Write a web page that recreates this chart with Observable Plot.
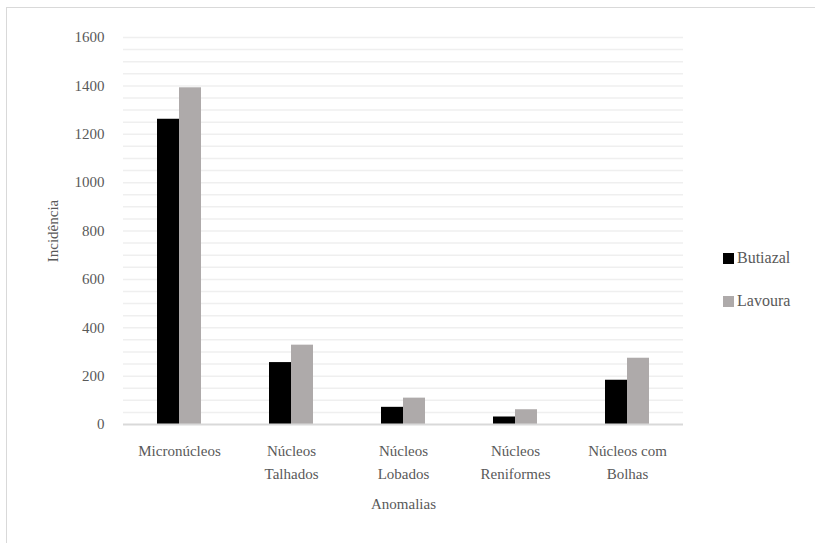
<!DOCTYPE html>
<html>
<head>
<meta charset="utf-8">
<script src="https://cdn.jsdelivr.net/npm/d3@7"></script>
<script src="https://cdn.jsdelivr.net/npm/@observablehq/plot@0.6"></script>
<style>
  html, body { margin: 0; padding: 0; background: #fff; }
  #wrap { position: relative; width: 815px; height: 543px; overflow: hidden; font-family: "Liberation Serif", serif; color: #595959; }
  #frame { position: absolute; left: 6px; top: 7px; right: -10px; bottom: -10px; border-top: 1.5px solid #d9d9d9; border-left: 1.5px solid #d9d9d9; }
  #chart { position: absolute; left: 0; top: 0; }
  .leg { position: absolute; left: 723px; font-size: 16px; display: flex; align-items: center; }
  .sw { width: 11px; height: 11px; margin-right: 3px; }
</style>
</head>
<body>
<div id="wrap">
  <div id="frame"></div>
  <div id="chart"></div>
  <div class="leg" style="top:249px"><div class="sw" style="background:#000"></div>Butiazal</div>
  <div class="leg" style="top:292px"><div class="sw" style="background:#aeaaaa"></div>Lavoura</div>
</div>
<script>
const categories = ["Micronúcleos", "Núcleos Talhados", "Núcleos Lobados", "Núcleos Reniformes", "Núcleos com Bolhas"];
const tickLabels = ["Micronúcleos", "Núcleos\nTalhados", "Núcleos\nLobados", "Núcleos\nReniformes", "Núcleos com\nBolhas"];
const series = ["Butiazal", "Lavoura"];
const butiazal = [1262, 256, 71, 31, 183];
const lavoura = [1392, 328, 109, 61, 274];
const yTicks = [0, 200, 400, 600, 800, 1000, 1200, 1400, 1600];
const gridTicks = d3.range(50, 1601, 50);

const data = categories.flatMap((c, i) => [
  {cat: c, s: "Butiazal", v: butiazal[i]},
  {cat: c, s: "Lavoura", v: lavoura[i]}
]);

const chart = Plot.plot({
  width: 815,
  height: 543,
  marginLeft: 123,
  marginRight: 132,
  marginTop: 37,
  marginBottom: 119,
  style: {fontFamily: "'Liberation Serif', serif", fontSize: "15px", color: "#595959", background: "transparent"},
  fx: {domain: categories, padding: 0, label: null},
  x: {domain: series, paddingInner: 0, paddingOuter: 1.545, axis: null},
  y: {domain: [0, 1600]},
  color: {domain: series, range: ["#000000", "#aeaaaa"]},
  marks: [
    Plot.ruleY(gridTicks, {stroke: "#efefef", strokeWidth: 1.5}),
    Plot.barY(data, {fx: "cat", x: "s", y: "v", fill: "s"}),
    Plot.ruleY([0], {stroke: "#d9d9d9", strokeWidth: 2}),
    Plot.axisY(yTicks, {tickSize: 0, tickPadding: 19, tickFormat: d => String(d), label: "Incidência", labelArrow: "none", labelAnchor: "center", labelOffset: 76, fontSize: 15}),
    Plot.axisFx({anchor: "bottom", tickSize: 0, tickPadding: 15, tickFormat: d => tickLabels[categories.indexOf(d)], lineHeight: 1.53, label: "Anomalias", labelArrow: "none", labelAnchor: "center", labelOffset: 84, fontSize: 15})
  ]
});
document.getElementById("chart").appendChild(chart);
</script>
</body>
</html>
